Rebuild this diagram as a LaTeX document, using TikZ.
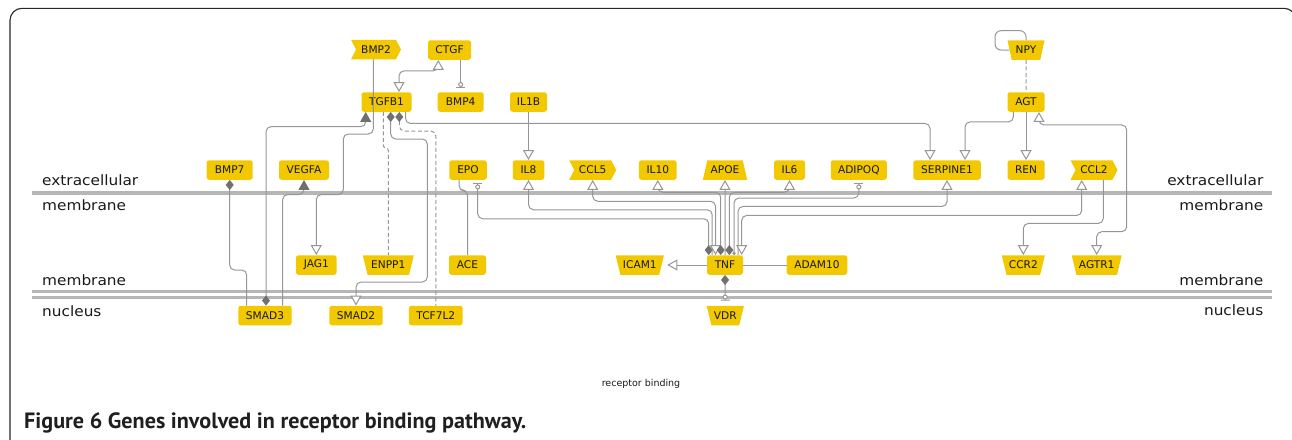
\documentclass[tikz,border=0pt]{standalone}
\usepackage{fontspec}
\usepackage{graphicx}
\setmainfont{DejaVu Sans}
\newfontfamily\capfont{PT Sans}
\newfontfamily\regfont[FakeStretch=1.08]{DejaVu Sans}
\usetikzlibrary{arrows.meta,shapes.geometric,shapes.symbols}
\definecolor{gold}{RGB}{242,200,0}
\definecolor{edgecol}{RGB}{150,150,150}
\definecolor{memcol}{RGB}{182,182,182}
\definecolor{tipcol}{RGB}{112,112,112}
\begin{document}
\begin{tikzpicture}[x=1pt,y=-1pt,
  gene/.style={fill=gold, draw=none, text=black!90, font=\fontsize{10.6}{12}\selectfont, inner sep=0pt, minimum height=19.5pt},
  box/.style={gene, rectangle, rounded corners=2.5pt},
  lig/.style={gene, signal, signal to=east, signal from=west, signal pointer angle=125},
  rec/.style={gene, trapezium, trapezium stretches=true, trapezium left angle=117, trapezium right angle=117},
  trap/.style={gene, trapezium, trapezium stretches=true, trapezium left angle=66, trapezium right angle=66},
  edge/.style={draw=edgecol, line width=1pt, rounded corners=5pt},
  dedge/.style={edge, dash pattern=on 4pt off 2.5pt},
  lbl/.style={font=\regfont\fontsize{14.2}{16}\selectfont, inner sep=0pt, text=black!90},
  membr/.style={draw=memcol, line width=4pt},
  membrthin/.style={draw=memcol, line width=3.3pt}
]
\useasboundingbox (0,0) rectangle (1292,439);
% frame
\draw[line width=1.1pt, rounded corners=12pt, black!85] (10,447) -- (10,8.3) -- (1296,8.3) -- (1296,447);
% membranes
\draw[membr] (32,192.5) -- (1272,192.5);
\draw[membrthin] (32,291.8) -- (1272,291.8);
\draw[membrthin] (32,297.6) -- (1272,297.6);

% nodes
\node[lig, minimum width=50pt] (BMP2) at (376,49.5) {BMP2};
\node[box, minimum width=43pt] (CTGF) at (449.5,50) {CTGF};
\node[box, minimum width=50pt] (TGFB1) at (386.5,102) {TGFB1};
\node[box, minimum width=46pt] (BMP4) at (460.7,102) {BMP4};
\node[box, minimum width=37pt] (IL1B) at (528.5,102) {IL1B};
\node[rec, minimum width=37pt, trapezium left angle=111, trapezium right angle=111] (NPY) at (1026,50) {NPY};
\node[box, minimum width=37pt] (AGT) at (1026,102) {AGT};

\node[box, minimum width=46pt] (BMP7) at (229.7,170) {BMP7};
\node[box, minimum width=50pt] (VEGFA) at (304,170) {VEGFA};
\node[box, minimum width=37.5pt] (EPO) at (468,170) {EPO};
\node[box, minimum width=31.5pt] (IL8) at (528.5,170) {IL8};
\node[lig, minimum width=47pt] (CCL5) at (592.7,170) {CCL5};
\node[box, minimum width=37.7pt] (IL10) at (657.8,170) {IL10};
\node[trap, minimum width=44.3pt] (APOE) at (725,170) {APOE};
\node[box, minimum width=31pt] (IL6) at (789.5,170) {IL6};
\node[box, minimum width=56pt] (ADIPOQ) at (858.8,170) {ADIPOQ};
\node[box, minimum width=67.5pt] (SERPINE1) at (947,170) {SERPINE1};
\node[box, minimum width=37pt] (REN) at (1026,170) {REN};
\node[lig, minimum width=47pt] (CCL2) at (1094,170) {CCL2};

\node[box, minimum width=40.7pt] (JAG1) at (316.3,265) {JAG1};
\node[rec, minimum width=51.3pt] (ENPP1) at (388.3,265) {ENPP1};
\node[box, minimum width=37pt] (ACE) at (467.5,265) {ACE};
\node[rec, minimum width=48.3pt] (ICAM1) at (639.8,265) {ICAM1};
\node[box, minimum width=36pt] (TNF) at (725,265) {TNF};
\node[box, minimum width=60.6pt] (ADAM10) at (817,265) {ADAM10};
\node[rec, minimum width=43.3pt] (CCR2) at (1023.3,265) {CCR2};
\node[rec, minimum width=50pt] (AGTR1) at (1096.7,265) {AGTR1};

\node[box, minimum width=53.4pt] (SMAD3) at (265,315.5) {SMAD3};
\node[box, minimum width=53.4pt] (SMAD2) at (356,315.5) {SMAD2};
\node[box, minimum width=53.7pt] (TCF7L2) at (435.8,315.5) {TCF7L2};
\node[rec, minimum width=37.3pt] (VDR) at (725.3,315.5) {VDR};

% edges
\tikzset{
  oT/.style={-{Triangle[length=10pt,width=11pt,fill=white]}},
}
\draw[edge, -{Triangle[length=10pt,width=11pt,fill=white]}] ([xshift=-2.7pt]BMP2.south) -- (373.3,134) -- (343.3,134) -- (343.3,194.5) -| (JAG1.north);
\draw[edge, {Triangle[length=10pt,width=11pt,fill=white]}-{Triangle[length=10pt,width=11pt,fill=white]}] ([xshift=-11.2pt]CTGF.south) -- ++(0,11) -| ([xshift=12.5pt]TGFB1.north);
\draw[edge, -{Circle[length=5pt,width=5pt,fill=white] Bar[width=9pt]}, shorten >=4pt] ([xshift=11.2pt]CTGF.south) -- (BMP4.north);
\draw[edge, -{Triangle[length=10pt,width=11pt,fill=white]}] ([xshift=19pt]TGFB1.south) -- ++(0,11.5) -| ([xshift=-17pt]SERPINE1.north);
\draw[edge, -{Triangle[length=10pt,width=11pt,fill=white]}] (IL1B.south) -- (IL8.north);
\draw[dedge, rounded corners=2.5pt] ([xshift=-3.2pt]TGFB1.south) -- ++(0,36) -| (ENPP1.north);
\draw[edge, {Diamond[length=10pt,width=8pt,color=tipcol]}-{Triangle[length=10pt,width=11pt,fill=white]}] ([xshift=4.2pt]TGFB1.south) -- (390.7,139) -- (427.3,139) -- (427.3,282) -| (SMAD2.north);
\draw[dedge, {Diamond[length=10pt,width=8pt,color=tipcol]}-] ([xshift=12.8pt]TGFB1.south) -- (399.3,131) -| (TCF7L2.north);
\draw[edge, {Diamond[length=10pt,width=8pt,color=tipcol]}-{Triangle[length=10pt,width=11pt,color=tipcol]}] ([xshift=1pt]SMAD3.north) -- (266,126.7) -| ([xshift=-20.8pt]TGFB1.south);
\draw[edge, {Diamond[length=10pt,width=8pt,color=tipcol]}-] (BMP7.south) -- (229.7,270) -| ([xshift=-18.3pt]SMAD3.north);
\draw[edge, -{Triangle[length=10pt,width=11pt,color=tipcol]}] ([xshift=17.7pt]SMAD3.north) -- (282.7,194.5) -| (VEGFA.south);
\draw[edge] ([xshift=-9pt]EPO.south) -- ++(0,10.5) -| (ACE.north);
% TNF fan
\draw[edge, {Diamond[length=10pt,width=8pt,color=tipcol]}-{Circle[length=5pt,width=5pt,fill=white] Bar[width=9pt]}, shorten >=3.5pt] ([xshift=-16.3pt]TNF.north) -- ++(0,-36.3) -| ([xshift=9.7pt]EPO.south);
\draw[edge, -{Triangle[length=10pt,width=11pt,fill=white]}] ([xshift=-12.8pt]TNF.north) -- ++(0,-45.3) -| (IL8.south);
\draw[edge, {Triangle[length=10pt,width=11pt,fill=white]}-{Triangle[length=10pt,width=11pt,fill=white]}] ([xshift=-9.5pt]TNF.north) -- ++(0,-53.8) -| (CCL5.south);
\draw[edge, {Diamond[length=10pt,width=8pt,color=tipcol]}-{Triangle[length=10pt,width=11pt,fill=white]}] ([xshift=-4.3pt]TNF.north) -- ++(0,-62.8) -| (IL10.south);
\draw[edge, -{Triangle[length=10pt,width=11pt,fill=white]}] (TNF.north) -- (APOE.south);
\draw[edge, {Diamond[length=10pt,width=8pt,color=tipcol]}-{Triangle[length=10pt,width=11pt,fill=white]}] ([xshift=4.3pt]TNF.north) -- ++(0,-62.8) -| (IL6.south);
\draw[edge, {Circle[length=3.5pt,width=3.5pt,fill=white]}-{Circle[length=5pt,width=5pt,fill=white] Bar[width=9pt]}, shorten >=3.5pt] ([xshift=9pt]TNF.north) -- ++(0,-57) -| (ADIPOQ.south);
\draw[edge, -{Triangle[length=10pt,width=11pt,fill=white]}] ([xshift=13pt]TNF.north) -- ++(0,-48.6) -| (SERPINE1.south);
\draw[edge, {Triangle[length=10pt,width=11pt,fill=white]}-{Triangle[length=10pt,width=11pt,fill=white]}] ([xshift=16.7pt]TNF.north) -- ++(0,-39.6) -| ([xshift=-12.3pt]CCL2.south);
\draw[edge, -{Triangle[length=10pt,width=11pt,fill=white]}] (TNF.west) -- ([xshift=5.5pt]ICAM1.east);
\draw[edge] (TNF.east) -- (ADAM10.west);
\draw[edge, {Diamond[length=10pt,width=8pt,color=tipcol]}-{Circle[length=5pt,width=5pt,fill=white] Bar[width=9pt]}, shorten >=5pt] (TNF.south) -- (VDR.north);
% right cluster
\draw[edge, -{Triangle[length=10pt,width=11pt,fill=white]}] ([xshift=-12.7pt]AGT.south) -- ++(0,10) -| ([xshift=18pt]SERPINE1.north);
\draw[edge, -{Triangle[length=10pt,width=11pt,fill=white]}] (AGT.south) -- (REN.north);
\draw[edge, rounded corners=6pt] (NPY.west) -| (995,30.7) -| (NPY.north);
\draw[dedge] (NPY.south) -- (AGT.north);
\draw[edge, {Triangle[length=10pt,width=11pt,fill=white]}-{Triangle[length=10pt,width=11pt,fill=white]}] ([xshift=13pt]AGT.south) -- ++(0,13) -| (1126.7,231.7) -| (AGTR1.north);
\draw[edge, -{Triangle[length=10pt,width=11pt,fill=white]}] ([xshift=9.3pt]CCL2.south) -- ++(0,43.5) -| (CCR2.north);

% compartment labels
\node[lbl, anchor=base west] (exL) at (42,185.3) {extracellular};
\node[lbl, anchor=base west] (meL1) at (42,210.7) {membrane};
\node[lbl, anchor=base west] (meL2) at (42,285) {membrane};
\node[lbl, anchor=base west] (nuL) at (42,316) {nucleus};
\node[lbl, anchor=base east] (exR) at (1263.5,185.3) {extracellular};
\node[lbl, anchor=base east] (meR1) at (1263.5,210.7) {membrane};
\node[lbl, anchor=base east] (meR2) at (1263.5,285) {membrane};
\node[lbl, anchor=base east] (nuR) at (1263.5,315.5) {nucleus};
\node[anchor=base, inner sep=0pt, font=\fontsize{9.5}{11}\selectfont, text=black!90] (rb) at (641,386.7) {receptor binding};
\node[anchor=base west, inner sep=0pt, text=black!88] (cap) at (24,428.3) {\resizebox{502pt}{!}{\capfont\bfseries\fontsize{19}{22}\selectfont Figure 6 Genes involved in receptor binding pathway.}};
\end{tikzpicture}
\end{document}
